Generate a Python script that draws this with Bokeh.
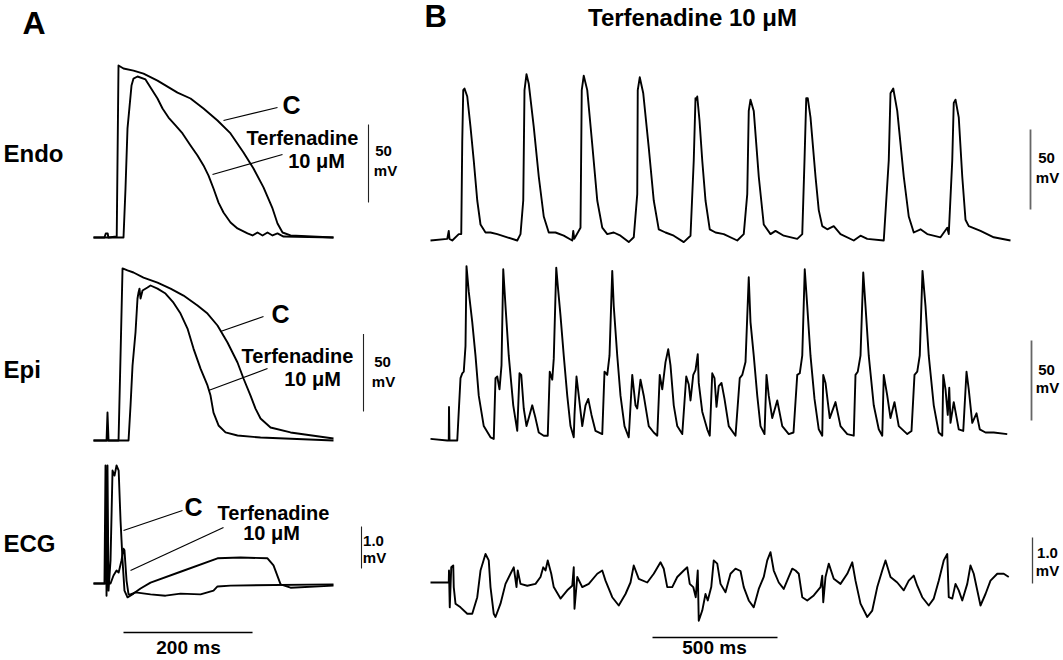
from bokeh.plotting import figure
from bokeh.models import Range1d
from bokeh.core.properties import value
from bokeh.embed import file_html
from bokeh.resources import INLINE

# ---------------- data (ms, mV) ----------------
# Panel A, Endo
A_ENDO_C_T = [0, 17, 19, 22, 23, 36, 38.75, 46.5, 62, 77.5, 99.2, 130.2, 150.4, 170.5, 192.2, 212.4,
              232.5, 248, 263.5, 277.5, 285.2, 293, 305.4, 372]
A_ENDO_C_V = [-85, -85, -82.4, -82.4, -85, -84.4, 25.3, 23.3, 22.0, 20.1, 15.6, 7.9, 4.1, -2.3, -10.0, -18.3,
              -30.5, -40.8, -52.9, -66.4, -76.0, -81.8, -83.7, -85]
A_ENDO_T_T = [0, 46.5, 49.6, 52.7, 58.9, 62, 68.2, 80.6, 88.4, 99.2,
              107, 116.3, 127.1, 138, 150.4, 161.2, 170.5, 178.3, 186, 193.8,
              201.5, 212.4, 223.2, 238.7, 246.5, 254.2, 262, 269.7, 277.5, 285.2,
              294.5, 372]
A_ENDO_T_V = [-85, -85, -53.6, -15.1, 12.4, 16.9, 18.2, 16.3, 11.2, 4.1,
              -2.3, -8.1, -13.2, -18.3, -26.0, -32.4, -38.8, -45.3, -53.6, -62.6,
              -69.0, -75.4, -79.2, -82.4, -83.7, -81.8, -83.7, -81.8, -83.7, -82.4,
              -84.4, -85]
# Panel A, Epi
A_EPI_C_T = [0, 20.2, 21.7, 23.3, 38.8, 41.9, 45, 52.7, 62, 77.5,
             99.2, 119.4, 139.5, 161.2, 176.7, 192.2, 207.7, 223.2, 232.5, 243.4,
             251.1, 258.9, 274.4, 305.4, 372]
A_EPI_C_V = [-85, -85, -66.9, -85, -85, -30.2, 26.0, 24.7, 23.4, 20.1,
             16.9, 13.0, 8.5, 2.1, -3.1, -10.8, -21.8, -34.7, -45.0, -56.0,
             -64.4, -70.8, -76.6, -79.8, -83.7]
A_EPI_T_T = [0, 54.3, 57.4, 60.5, 65.1, 68.2, 69.8, 71.3, 72.9, 76,
             83.7, 88.4, 99.2, 111.6, 124, 134.9, 145.7, 155, 165.9, 176.7,
             181.4, 186, 193.8, 204.6, 223.2, 258.9, 372]
A_EPI_T_V = [-85, -85, -62.4, -36.6, -15.3, 6.6, 10.5, 13.0, 6.6, 11.8,
             13.7, 15.0, 13.0, 9.8, 3.9, -3.1, -12.8, -25.7, -38.6, -49.5,
             -56.0, -67.0, -75.3, -79.8, -81.8, -83.1, -85]
# Panel A, ECG (mV)
A_ECG_C_T = [0, 17, 18.6, 20.2, 21.7, 23.3, 26.4, 29.5, 32.6, 35.7,
             39, 41.9, 45, 48, 52.7, 62, 72.9, 88.4, 134.9, 192.2,
             227.9, 269.7, 279, 290, 305.4, 372]
A_ECG_C_V = [0, 0, 2.81, -0.29, 2.81, -0.17, 0.55, 2.69, 2.57, 2.81,
             2.69, 1.5, 0.55, -0.17, -0.33, -0.24, -0.12, 0.02, 0.28, 0.6,
             0.62, 0.6, 0.43, -0.02, -0.1, -0.05]
A_ECG_T_T = [0, 26.4, 31, 35.7, 39, 43.4, 46.5, 48, 51.2, 54.3,
             57.4, 65.1, 88.4, 111.6, 134.9, 165.9, 176.7, 186, 192.2, 212.4,
             372]
A_ECG_T_V = [0, 0, 0.19, 0.31, 0.26, 0.55, 0.83, 0.79, 0.07, -0.26,
             -0.26, -0.21, -0.26, -0.29, -0.24, -0.26, -0.21, -0.17, -0.07, -0.05,
             -0.02]

# Panel B, Endo
B_ENDO_T = [0, 67, 73, 76, 87, 113, 123, 127, 131, 136,
            147, 160, 173, 187, 200, 220, 240, 267, 307, 347,
            360, 371, 376, 384, 393, 413, 433, 453, 473, 500,
            533, 567, 571, 575, 600, 605, 613, 627, 647, 667,
            687, 707, 733, 760, 793, 813, 827, 829, 837, 851,
            873, 893, 913, 940, 973, 1013, 1040, 1053, 1060, 1064,
            1067, 1076, 1087, 1100, 1117, 1140, 1173, 1227, 1253, 1267,
            1273, 1280, 1293, 1313, 1333, 1360, 1380, 1413, 1467, 1487,
            1496, 1503, 1509, 1520, 1540, 1553, 1567, 1587, 1613, 1640,
            1693, 1720, 1747, 1813, 1833, 1840, 1851, 1867, 1893, 1913,
            1933, 1960, 1987, 2040, 2067, 2073, 2087, 2093, 2100, 2113,
            2127, 2140, 2153, 2200, 2253, 2320]
B_ENDO_V = [-85, -84, -79, -84, -85, -81, -81, -23, 9, 10,
            5, -14, -35, -60, -75, -80, -80, -81, -83, -85,
            -81, -60, 9, 19, 13, -14, -45, -70, -80, -80,
            -82, -85, -79, -84, -77, 9, 18, 9, -25, -60,
            -77, -81, -80, -82, -86, -83, -56, 9, 17, 7,
            -27, -60, -78, -80, -82, -86, -82, -35, 4, 3,
            5, -10, -35, -60, -78, -80, -81, -85, -81, -56,
            -4, 3, -4, -45, -75, -81, -79, -82, -84, -81,
            -35, 4, 4, -8, -45, -66, -76, -78, -76, -81,
            -85, -82, -84, -85, -35, 7, 10, -4, -45, -70,
            -80, -78, -81, -83, -77, -81, -35, 1, 3, -8,
            -45, -72, -76, -79, -83, -85]
# Panel B, Epi
B_EPI_T = [0, 67, 73, 74, 76, 107, 120, 127, 133, 140,
           144, 153, 167, 180, 193, 213, 240, 253, 260, 267,
           276, 284, 291, 300, 313, 331, 347, 356, 363, 373,
           384, 393, 407, 420, 433, 453, 469, 477, 487, 493,
           503, 509, 520, 533, 547, 560, 573, 576, 584, 593,
           607, 620, 631, 644, 660, 687, 696, 707, 716, 727,
           733, 747, 760, 776, 793, 807, 820, 827, 840, 853,
           873, 893, 907, 917, 927, 940, 951, 960, 973, 987,
           1007, 1023, 1033, 1040, 1051, 1060, 1069, 1073, 1087, 1107,
           1117, 1127, 1136, 1144, 1153, 1164, 1176, 1193, 1220, 1237,
           1247, 1260, 1273, 1280, 1293, 1307, 1320, 1336, 1344, 1353,
           1367, 1387, 1407, 1433, 1452, 1467, 1477, 1487, 1497, 1507,
           1520, 1536, 1553, 1567, 1571, 1580, 1597, 1620, 1640, 1667,
           1693, 1700, 1709, 1720, 1731, 1740, 1753, 1773, 1793, 1807,
           1813, 1827, 1840, 1856, 1873, 1907, 1924, 1936, 1947, 1957,
           1968, 1980, 1993, 2013, 2033, 2047, 2051, 2060, 2069, 2075,
           2080, 2093, 2113, 2131, 2144, 2153, 2167, 2184, 2197, 2220,
           2253, 2307]
B_EPI_V = [-84, -85, -85, -64, -85, -85, -46, -43, -42, -26,
           24, 8, -11, -32, -57, -76, -83, -84, -46, -45,
           -53, -38, 22, -1, -32, -63, -79, -43, -44, -65,
           -76, -71, -63, -71, -80, -82, -82, -42, -47, -34,
           23, 12, -7, -32, -57, -76, -83, -69, -45, -57,
           -76, -63, -59, -69, -79, -81, -42, -44, -32, 21,
           -1, -32, -57, -76, -83, -44, -63, -65, -47, -57,
           -76, -80, -82, -44, -53, -36, -28, -38, -63, -76,
           -81, -45, -50, -60, -44, -41, -31, -49, -67, -78,
           -82, -43, -46, -64, -51, -49, -59, -76, -82, -46,
           -44, -36, 17, -11, -32, -57, -76, -81, -44, -57,
           -71, -60, -76, -81, -80, -44, -43, -32, 22, -1,
           -32, -59, -78, -82, -44, -49, -71, -61, -76, -81,
           -82, -44, -42, -32, 20, -1, -32, -63, -78, -82,
           -44, -57, -71, -61, -76, -81, -79, -44, -42, -32,
           21, -1, -32, -63, -80, -82, -44, -53, -69, -52,
           -74, -61, -78, -79, -42, -53, -74, -68, -78, -80,
           -80, -81]
# Panel B, ECG (mV)
B_ECG_T = [0, 73, 74, 77, 83, 91, 93, 100, 120, 147,
           167, 187, 200, 220, 233, 240, 253, 260, 280, 300,
           320, 333, 344, 349, 360, 387, 420, 440, 451, 460,
           469, 483, 493, 520, 547, 567, 573, 576, 587, 607,
           633, 667, 687, 700, 727, 753, 780, 800, 813, 833,
           867, 893, 920, 933, 947, 967, 987, 1013, 1027, 1037,
           1051, 1061, 1069, 1073, 1087, 1100, 1109, 1123, 1133, 1147,
           1160, 1180, 1200, 1220, 1240, 1253, 1273, 1293, 1313, 1333,
           1347, 1360, 1373, 1393, 1413, 1433, 1447, 1460, 1473, 1487,
           1507, 1533, 1560, 1567, 1571, 1580, 1593, 1613, 1640, 1667,
           1687, 1700, 1720, 1747, 1767, 1787, 1807, 1820, 1840, 1867,
           1893, 1913, 1933, 1947, 1967, 1993, 2013, 2033, 2053, 2067,
           2073, 2087, 2100, 2113, 2127, 2147, 2160, 2173, 2187, 2200,
           2220, 2240, 2267, 2293, 2313]
B_ECG_V = [0, 0, 0.26, -0.54, 0.33, 0.37, -0.10, -0.46, -0.54, -0.68,
           -0.68, -0.32, 0.26, 0.62, 0.48, -0.10, -0.68, -0.75, -0.46, -0.03,
           0.19, 0.33, -0.10, 0.26, -0.03, -0.07, -0.03, 0.12, 0.33, 0.26,
           0.48, 0.19, -0.10, -0.35, -0.17, -0.07, 0.33, -0.57, 0.12, -0.10,
           -0.03, 0.19, 0.26, 0.04, -0.32, -0.50, -0.25, 0, 0.37, 0.08,
           0, 0.19, 0.44, 0.30, -0.10, -0.10, 0.12, 0.26, 0.33, -0.03,
           -0.10, -0.32, 0.26, -0.83, -0.61, -0.25, -0.39, -0.10, 0.48, 0.41,
           -0.03, -0.21, 0.19, 0.30, 0.25, -0.10, -0.39, -0.54, -0.14, 0.12,
           0.48, 0.66, 0.26, 0, -0.14, 0.12, 0.30, 0.26, 0.19, -0.32,
           -0.39, -0.28, -0.10, 0.15, -0.43, 0.12, 0.41, 0.08, -0.03, 0.19,
           0.44, 0.04, -0.46, -0.75, -0.61, -0.10, 0.26, 0.48, 0.12, 0,
           -0.17, 0.04, 0.15, -0.07, -0.32, -0.50, -0.35, 0.04, 0.48, 0.62,
           -0.32, -0.35, -0.03, -0.17, -0.39, -0.03, 0.37, 0.19, -0.17, -0.50,
           -0.25, 0.04, 0.19, 0.19, 0.12]

# scale-bar sizes
SCALE_MV = 50
SCALE_ECG_MV = 1.0
SCALE_A_MS = 200
SCALE_B_MS = 500

# ---------------- layout ----------------
W, H = 1063, 660
PX0, PY0 = 0, 0
PX1, PY1 = PX0 + W, PY0 + H
FONT = value("Liberation Sans")

TIME = {"tA": (93, 1.55), "tB": (430, 4.0)}          # origin px, ms per px
VOLT = {"endoA": (237, -85, 1.56), "epiA": (440, -85, 1.55), "ecgA": (583, 0, 42),
        "endoB": (240, -85, 1.6), "epiB": (440, -85, 1.6), "ecgB": (582, 0, 46)}


def t_range(origin_px, ms_per_px):
    return Range1d((PX0 - origin_px) * ms_per_px, (PX1 - origin_px) * ms_per_px)


def v_range(base_px, base_val, px_per_unit):
    return Range1d(base_val + (base_px - PY1) / px_per_unit, base_val + (base_px - PY0) / px_per_unit)


p = figure(width=W, height=H, x_range=Range1d(PX0, PX1), y_range=Range1d(PY1, PY0),
           output_backend="svg", toolbar_location=None,
           x_axis_location=None, y_axis_location=None, min_border=0)
p.grid.visible = False
p.outline_line_color = None
p.background_fill_color = "white"
p.border_fill_color = "white"
p.extra_x_ranges = {k: t_range(*v) for k, v in TIME.items()}
p.extra_y_ranges = {k: v_range(*v) for k, v in VOLT.items()}

traces = [
    (A_ENDO_C_T, A_ENDO_C_V, "tA", "endoA"), (A_ENDO_T_T, A_ENDO_T_V, "tA", "endoA"),
    (A_EPI_C_T, A_EPI_C_V, "tA", "epiA"), (A_EPI_T_T, A_EPI_T_V, "tA", "epiA"),
    (A_ECG_C_T, A_ECG_C_V, "tA", "ecgA"), (A_ECG_T_T, A_ECG_T_V, "tA", "ecgA"),
    (B_ENDO_T, B_ENDO_V, "tB", "endoB"), (B_EPI_T, B_EPI_V, "tB", "epiB"),
    (B_ECG_T, B_ECG_V, "tB", "ecgB"),
]
for t, v, xr, yr in traces:
    p.line(t, v, x_range_name=xr, y_range_name=yr, line_color="black",
           line_width=1.9, line_join="round")


def v_bar(x_px, bottom_px, length, yr, color, width):
    base_px, base_val, ppu = VOLT[yr]
    v0 = base_val + (base_px - bottom_px) / ppu
    p.line([x_px, x_px], [v0, v0 + length], y_range_name=yr, line_color=color, line_width=width)


def t_bar(y_px, left_px, length, xr):
    origin, mpp = TIME[xr]
    t0 = (left_px - origin) * mpp
    p.line([t0, t0 + length], [y_px, y_px], x_range_name=xr, line_color="black", line_width=1.5)


v_bar(368, 202, SCALE_MV, "endoA", "#222222", 1.1)
v_bar(363, 411, SCALE_MV, "epiA", "#222222", 1.1)
v_bar(361, 568, SCALE_ECG_MV, "ecgA", "#222222", 1.1)
v_bar(1030, 209, SCALE_MV, "endoB", "#666666", 1.8)
v_bar(1031, 420, SCALE_MV, "epiB", "#666666", 1.8)
v_bar(1032, 583, SCALE_ECG_MV, "ecgB", "#444444", 1.3)
t_bar(632, 123, SCALE_A_MS, "tA")
t_bar(637, 652, SCALE_B_MS, "tB")

# pointer lines
p.segment(x0=[277, 282, 263, 267, 182, 223], y0=[107, 154, 316, 368, 510, 527],
          x1=[223, 212, 220, 208, 123, 130], y1=[120, 174, 331, 390, 530, 570],
          line_color="black", line_width=1.2)


def txt(xs, ys, labels, size, align="center"):
    p.text(x=xs, y=ys, text=labels, text_font=FONT, text_font_style="bold",
           text_font_size=size, text_align=align, text_baseline="middle", text_color="black")


txt([22], [22], ["A"], "32px", "left")
txt([424], [16], ["B"], "31px", "left")
txt([692], [17], ["Terfenadine 10 \u03bcM"], "24px")
txt([3, 3, 3], [153, 369, 543], ["Endo", "Epi", "ECG"], "24px", "left")
txt([291, 280, 193], [104, 313, 506], ["C", "C", "C"], "25px")
txt([302, 297, 273], [137, 355, 512], ["Terfenadine"] * 3, "20px")
txt([316, 312, 271], [160, 378, 532], ["10 \u03bcM"] * 3, "20px")
mv = f"{SCALE_MV}"
ecg = f"{SCALE_ECG_MV:.1f}"
txt([383, 382, 373, 1046, 1046, 1047], [150, 361, 540, 157, 369, 552],
    [mv, mv, ecg, mv, mv, ecg], "15px")
txt([385, 383, 374, 1047, 1047, 1047], [170, 381, 557, 177, 387, 570], ["mV"] * 6, "15px")
txt([188, 714], [647, 647], [f"{SCALE_A_MS} ms", f"{SCALE_B_MS} ms"], "19px")

open("out.html", "w").write(file_html(p, INLINE))
